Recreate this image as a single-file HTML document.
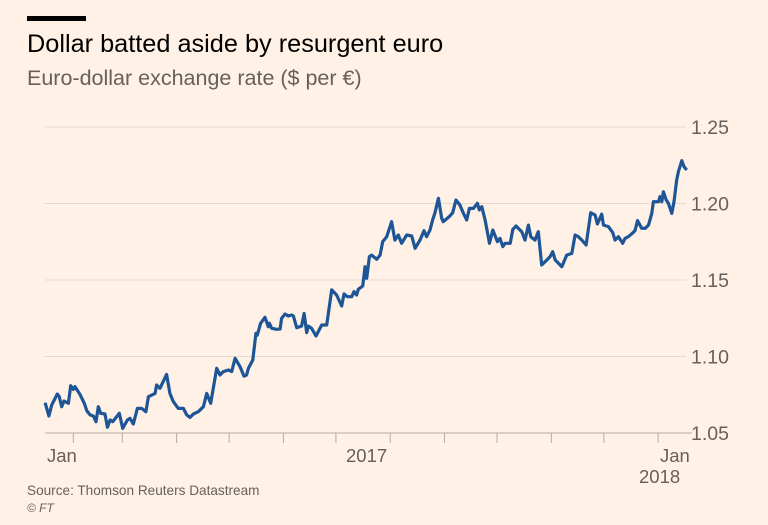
<!DOCTYPE html>
<html><head><meta charset="utf-8"><style>
html,body{margin:0;padding:0;background:#fff1e5;}
body{width:768px;height:525px;overflow:hidden;position:relative;font-family:"Liberation Sans",sans-serif;}
svg{position:absolute;left:0;top:0;}
</style></head><body>
<svg id="chart" width="768" height="525">
<rect x="27" y="16" width="59" height="5" fill="#000"/>
<text x="27" y="52" font-size="25.3" fill="#000">Dollar batted aside by resurgent euro</text>
<text x="27" y="85" font-size="21.5" fill="#66605c">Euro-dollar exchange rate ($ per €)</text>
<g id="grid"></g><g id="xaxis"></g><g id="series"></g>
<text x="27" y="495" font-size="13.6" fill="#66605c">Source: Thomson Reuters Datastream</text>
<text x="27" y="512" font-size="12" font-style="italic" fill="#66605c">© FT</text>
</svg>
<script>
const yTicks=[1.05,1.10,1.15,1.20,1.25];
const yTickLabels=["1.05","1.10","1.15","1.20","1.25"];
const xTickDays=[31,59,90,120,151,181,212,243,273,304,334,365];
const days=[14.9,17.1,18.7,21.9,23.0,24.4,25.7,28.2,29.5,31.0,32.0,34.8,36.4,37.3,38.7,40.6,42.5,44.0,45.3,46.6,49.1,50.5,52.0,53.5,57.3,59.2,61.9,63.4,65.3,67.6,70.1,72.5,73.9,77.7,78.6,80.5,84.3,86.2,88.1,91.0,93.9,95.8,97.7,99.6,102.4,105.3,107.2,109.5,112.9,114.8,116.7,119.6,121.5,123.4,126.2,128.5,130.0,131.0,133.5,135.3,136.1,138.0,140.5,142.4,143.0,144.3,147.2,149.1,150.0,151.9,153.8,155.7,156.7,158.6,161.4,162.8,164.3,165.2,167.1,169.6,172.9,175.7,178.6,181.4,184.3,185.6,187.5,190.0,191.3,192.8,193.8,196.3,197.0,197.6,198.6,200.1,201.4,204.3,206.2,207.7,210.0,212.8,214.7,216.6,218.5,221.4,224.3,226.2,229.0,231.3,232.8,234.7,236.2,237.6,239.5,241.4,242.3,246.1,247.7,249.6,251.8,253.8,255.7,257.2,259.5,261.8,262.9,264.3,266.2,268.7,270.6,273.2,274.7,276.3,277.6,280.5,282.0,283.9,287.1,289.0,290.9,292.3,294.7,296.6,298.5,301.4,303.3,304.8,306.2,308.1,310.0,312.8,315.7,317.6,319.5,321.4,323.9,326.5,329.0,330.3,332.8,333.8,336.6,339.1,340.4,342.3,344.8,346.1,348.0,349.9,351.8,353.2,355.6,357.6,359.5,361.4,362.3,365.2,366.1,367.1,368.0,369.6,370.9,372.8,374.1,375.6,376.6,378.5,379.8,381.3];
const rates=[1.0698,1.0611,1.0683,1.0755,1.0737,1.0672,1.0709,1.0694,1.0809,1.0785,1.0803,1.0753,1.0716,1.0694,1.0646,1.0618,1.0611,1.0574,1.0672,1.0629,1.0624,1.0537,1.0585,1.0574,1.0629,1.0530,1.0585,1.0596,1.0559,1.0661,1.0661,1.0639,1.0737,1.0759,1.0814,1.0792,1.0883,1.0759,1.0705,1.0661,1.0661,1.0618,1.0602,1.0624,1.0639,1.0672,1.0759,1.0694,1.0923,1.0879,1.0901,1.0912,1.0901,1.0988,1.0934,1.0872,1.0879,1.0923,1.0977,1.1151,1.1140,1.1217,1.1256,1.1195,1.1217,1.1184,1.1178,1.1180,1.1249,1.1278,1.1265,1.1271,1.1265,1.1188,1.1199,1.1282,1.1156,1.1199,1.1184,1.1134,1.1206,1.1206,1.1435,1.1402,1.1330,1.1409,1.1391,1.1391,1.1424,1.1402,1.1439,1.1461,1.1522,1.1587,1.1511,1.1653,1.1663,1.1635,1.1663,1.1751,1.1783,1.1881,1.1761,1.1794,1.1740,1.1794,1.1788,1.1707,1.1761,1.1822,1.1783,1.1827,1.1892,1.1940,1.2034,1.1903,1.1881,1.1918,1.1940,1.2023,1.1990,1.1936,1.1892,1.1968,1.1968,1.2001,1.1958,1.1979,1.1892,1.1740,1.1827,1.1751,1.1772,1.1718,1.1740,1.1740,1.1831,1.1853,1.1816,1.1761,1.1859,1.1783,1.1761,1.1816,1.1598,1.1631,1.1653,1.1685,1.1631,1.1609,1.1587,1.1663,1.1674,1.1794,1.1783,1.1761,1.1729,1.1940,1.1925,1.1866,1.1931,1.1859,1.1849,1.1809,1.1761,1.1783,1.1740,1.1772,1.1783,1.1801,1.1822,1.1888,1.1838,1.1838,1.1859,1.1936,1.2012,1.2012,1.2045,1.2012,1.2077,1.2023,1.2001,1.1936,1.2012,1.2154,1.2208,1.2280,1.2241,1.2219];
const NS="http://www.w3.org/2000/svg";
function xs(d){return 19+d*1.751;}
function ys(v){return 433-(v-1.05)*1530;}
function mk(tag,parent,attrs){const e=document.createElementNS(NS,tag);for(const k in attrs)e.setAttribute(k,attrs[k]);parent.appendChild(e);return e;}
const grid=document.getElementById('grid');
yTicks.forEach((v,i)=>{
  const l=mk('line',grid,{x1:45,x2:i===0?692:686,y1:ys(v),y2:ys(v),stroke:i===0?'#b8aca2':'#e6d9ce','stroke-width':1});
  
  
  const t=mk('text',grid,{x:691,y:ys(v)+7,'font-size':19.5,fill:'#66605c'});
  t.textContent=yTickLabels[i];
  
  
});
const xa=document.getElementById('xaxis');
xTickDays.forEach(d=>{
  const l=mk('line',xa,{x1:xs(d),x2:xs(d),y1:433,y2:443,stroke:'#b8aca2','stroke-width':1});
  
  
});
[["Jan",47,462],["2017",346,462],["Jan",660,462],["2018",639,483]].forEach(a=>{
  const t=mk('text',xa,{x:a[1],y:a[2],'font-size':18.5,fill:'#66605c'});
  t.textContent=a[0];
  
  
});
const p=mk('path',document.getElementById('series'),{d:days.map((d,i)=>(i?'L':'M')+xs(d).toFixed(1)+','+ys(rates[i]).toFixed(1)).join(''),fill:'none',stroke:'#1d5597','stroke-width':3.2,'stroke-linejoin':'round'});


</script>
</body></html>
